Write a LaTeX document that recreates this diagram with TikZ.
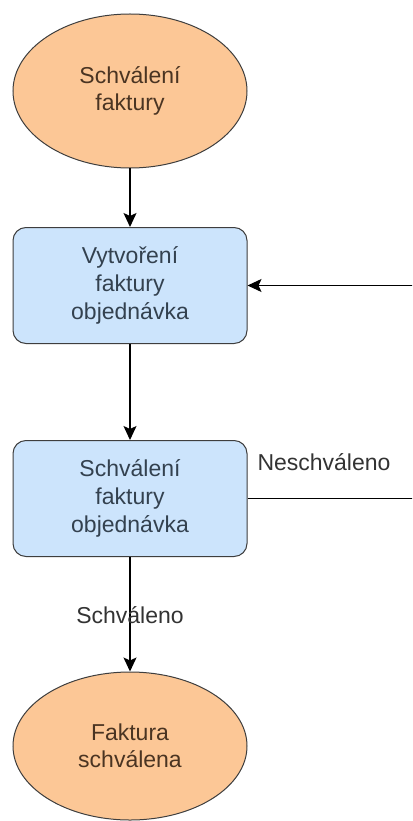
\documentclass[tikz,border=0pt]{standalone}
\usepackage{fontspec}
\setmainfont{Liberation Sans}
\usetikzlibrary{shapes.geometric,arrows.meta}
\definecolor{orfill}{HTML}{FCC796}
\definecolor{blfill}{HTML}{CCE4FC}
\definecolor{edgec}{HTML}{3E3E3E}
\definecolor{ortext}{HTML}{4A3422}
\definecolor{bltext}{HTML}{33414F}
\definecolor{lbltext}{HTML}{333333}
\tikzset{
  endpoint/.style={ellipse, draw=edgec, line width=1pt, fill=orfill, inner sep=0pt,
    minimum width=234pt, text=ortext, align=center,
    font=\fontsize{23}{27}\selectfont},
  procbox/.style={rectangle, rounded corners=13pt, draw=edgec, line width=1pt, fill=blfill,
    minimum width=234pt, minimum height=116pt, inner sep=0pt, text=bltext, align=center,
    font=\fontsize{23}{28}\selectfont},
  lbl/.style={text=lbltext, inner sep=0pt, font=\fontsize{23}{27}\selectfont},
  conn/.style={line width=1.4pt, draw=black, -{Stealth[length=14pt,width=13pt,inset=3pt]}},
  plain/.style={line width=1.4pt, draw=black}
}
\begin{document}
\begin{tikzpicture}[x=1pt,y=-1pt]
\useasboundingbox (0,0) rectangle (412,821);
\clip (0,0) rectangle (412,821);
\fill[white] (0,0) rectangle (412,821);
\node[endpoint, minimum height=154pt] (start) at (130,91) {Schválení\\faktury};
\node[procbox] (create) at (130,285.5) {Vytvoření\\faktury\\objednávka};
\node[procbox] (approve) at (130,498.5) {Schválení\\faktury\\objednávka};
\node[endpoint, minimum height=148pt] (done) at (130,746) {Faktura\\schválena};
\coordinate (rt) at (440,498.5);
\draw[conn] (start) -- (create);
\draw[conn] (create) -- (approve);
\draw[conn] (approve) -- (done);
\draw[conn] (approve.east) -- (rt) |- (create.east);
\node[lbl] (yes) at (130,615) {Schváleno};
\node[lbl] (no) at (324,462) {Neschváleno};
\end{tikzpicture}
\end{document}
